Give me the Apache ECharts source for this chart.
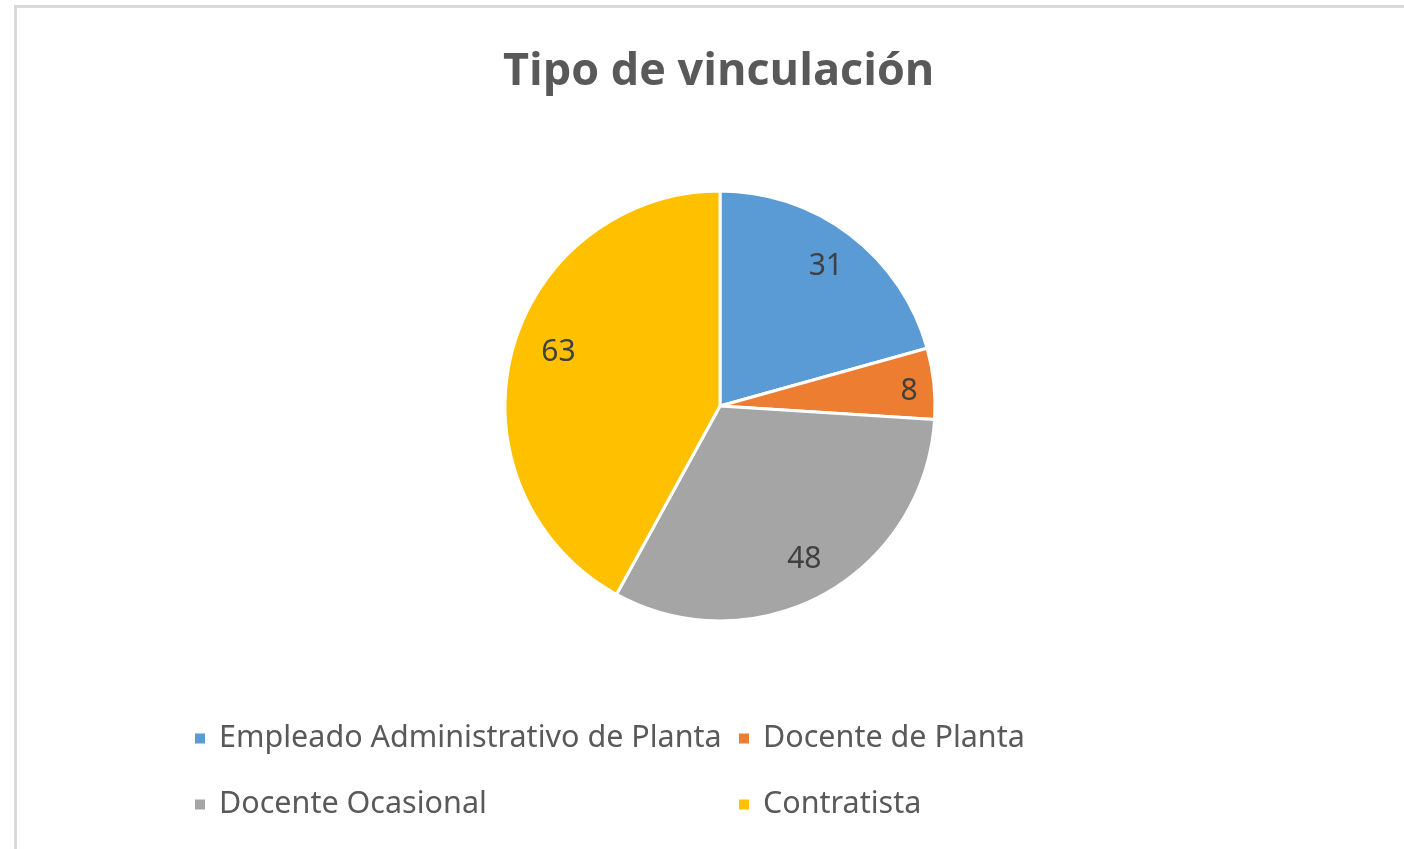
<!DOCTYPE html>
<html>
<head>
<meta charset="utf-8">
<script src="https://cdn.jsdelivr.net/npm/echarts@6/dist/echarts.min.js"></script>
<style>
  html, body { margin: 0; padding: 0; background: #fff; }
  #chart { width: 1404px; height: 849px; }
</style>
</head>
<body>
<div id="chart"></div>
<script>
"use strict";

// datos
var categorias = ['Empleado Administrativo de Planta', 'Docente de Planta', 'Docente Ocasional', 'Contratista'];
var valores = [31, 8, 48, 63];
var colores = ['#5B9BD5', '#ED7D31', '#A5A5A5', '#FFC000'];

var chart = echarts.init(document.getElementById('chart'));

var datos = categorias.map(function (c, i) {
	return { name: c, value: valores[i], itemStyle: { color: colores[i] } };
});

var legendBase = {
	orient: 'vertical',
	itemWidth: 12,
	itemHeight: 12,
	itemGap: 35,
	icon: 'rect',
	textStyle: { color: '#595959', fontSize: 30.5, fontFamily: 'Noto Sans', padding: [0, 0, 0, 8] }
};

var option = {
	backgroundColor: '#fff',
	animation: false,
	title: {
		text: 'Tipo de vinculación',
		left: 498,
		top: 45,
		textStyle: { color: '#595959', fontSize: 45, fontWeight: 'bold', fontFamily: 'Open Sans' }
	},
	graphic: [{
		type: 'rect',
		shape: { x: 15.5, y: 6.5, width: 1600, height: 1000 },
		style: { fill: 'none', stroke: '#d9d9d9', lineWidth: 3 },
		silent: true
	}],
	legend: [
		Object.assign({}, legendBase, { left: 188, top: 718, data: [categorias[0], categorias[2]] }),
		Object.assign({}, legendBase, { left: 732, top: 718, data: [categorias[1], categorias[3]] })
	],
	series: [{
		type: 'pie',
		center: [720, 406],
		radius: 215,
		startAngle: 90,
		clockwise: true,
		label: { show: false },
		labelLine: { show: false },
		itemStyle: { borderColor: '#fff', borderWidth: 3 },
		emphasis: { disabled: true },
		data: datos
	}, {
		// capa transparente solo para colocar las etiquetas a 0.8 del radio
		type: 'pie',
		center: [720, 406],
		radius: [129, 215],
		startAngle: 90,
		clockwise: true,
		silent: true,
		itemStyle: { color: 'rgba(0,0,0,0)', borderWidth: 0 },
		label: {
			show: true,
			position: 'inside',
			formatter: '{c}',
			color: '#404040',
			fontSize: 30,
			fontFamily: 'Noto Sans'
		},
		labelLine: { show: false },
		labelLayout: function (p) {
			// la porción pequeña lleva la etiqueta más hacia el borde
			if (p.dataIndex === 1) return { dx: 15, dy: 4 };
			if (p.dataIndex === 3) return { dx: 8, dy: -10 };
			return {};
		},
		emphasis: { disabled: true },
		data: categorias.map(function (c, i) { return { name: c, value: valores[i] }; })
	}]
};

chart.setOption(option);
</script>
</body>
</html>
